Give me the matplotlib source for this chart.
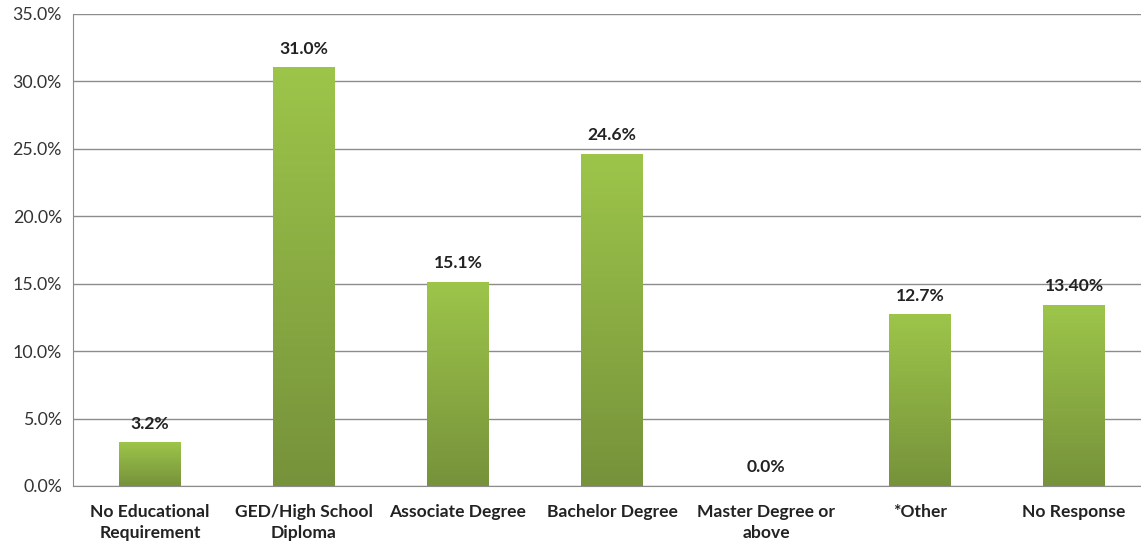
import matplotlib
matplotlib.use("Agg")
import matplotlib.pyplot as plt
import numpy as np
from matplotlib.colors import LinearSegmentedColormap

categories = ["No Educational\nRequirement", "GED/High School\nDiploma", "Associate Degree",
              "Bachelor Degree", "Master Degree or\nabove", "*Other", "No Response"]
values = [3.2, 31.0, 15.1, 24.6, 0.0, 12.7, 13.4]
labels = ["3.2%", "31.0%", "15.1%", "24.6%", "0.0%", "12.7%", "13.40%"]
yticks = [0, 5, 10, 15, 20, 25, 30, 35]

plt.rcParams['font.family'] = ['Lato', 'DejaVu Sans']

W, H = 1141, 542
fig = plt.figure(figsize=(W/100, H/100), dpi=100)
left, right, top, bottom = 73, 1151, 14, 486
ax = fig.add_axes([left/W, 1-bottom/H, (right-left)/W, (bottom-top)/H])

x = np.arange(len(categories))
bars = ax.bar(x, values, width=0.4, color='none', zorder=3)
cmap = LinearSegmentedColormap.from_list('g', ['#76923B', '#9DC54A'])
grad = np.linspace(0, 1, 256).reshape(-1, 1)
for b in bars:
    h = b.get_height()
    if h <= 0:
        continue
    x0 = b.get_x(); w = b.get_width()
    ax.imshow(grad, extent=[x0, x0+w, 0, h], origin='lower', cmap=cmap,
              aspect='auto', zorder=3)

for xi, v, lab in zip(x, values, labels):
    ax.annotate(lab, (xi, v), xytext=(0, 8), textcoords='offset points',
                ha='center', va='bottom', fontsize=12.6, fontweight='bold', color='#222222')

ax.set_xlim(-0.5, len(categories)-0.5)
ax.set_ylim(0, 35)
ax.set_yticks(yticks)
ax.set_yticklabels([f"{t:.1f}%" for t in yticks], fontsize=12.8, color='#333333')
ax.set_xticks(x)
ax.set_xticklabels(categories, fontsize=12.6, fontweight='bold', color='#222222', linespacing=1.35)
ax.tick_params(length=0, pad=8)
ax.tick_params(axis='x', pad=13)
ax.grid(axis='y', color='#8C8C8C', linewidth=1, zorder=0)
ax.set_axisbelow(True)
for s in ['top', 'right']:
    ax.spines[s].set_visible(False)
for s in ['left', 'bottom']:
    ax.spines[s].set_color('#8C8C8C')
fig.savefig('out.png', dpi=100)
